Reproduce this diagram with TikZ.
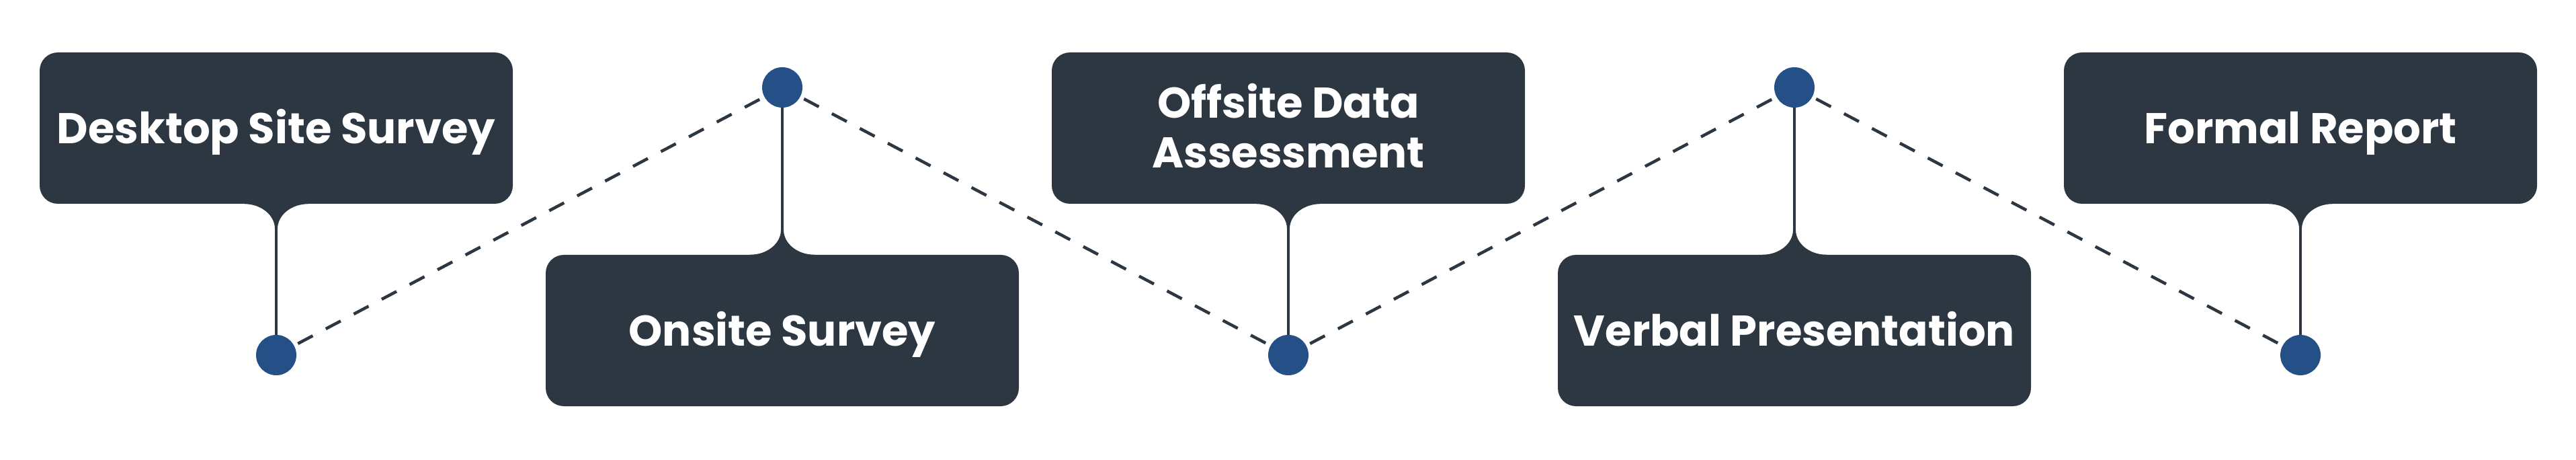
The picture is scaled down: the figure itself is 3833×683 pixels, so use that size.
\documentclass[tikz,border=0pt]{standalone}
\usepackage{fontspec}
\setmainfont{Poppins}
\definecolor{boxc}{HTML}{2C3742}
\definecolor{dotc}{HTML}{254F87}
\begin{document}
\begin{tikzpicture}[x=1pt,y=1pt,
  box/.style={fill=boxc, rounded corners=27pt, minimum width=704pt, minimum height=225pt, inner sep=0pt},
  lbl/.style={text=white, font=\fontsize{64}{74}\selectfont\bfseries, align=center, inner sep=0pt, anchor=base},
  dot/.style={circle, fill=dotc, minimum size=60pt, inner sep=0pt, outer sep=0pt},
  stem/.style={draw=boxc, line width=4pt},
  dashline/.style={draw=boxc, line width=4.5pt, dash pattern=on 25pt off 22pt, shorten <=6.5pt, shorten >=6.5pt},
  boxtab/.pic={\fill[boxc] (-48,2) -- (-48,0) .. controls (-22,0) and (-2,-17) .. (-2,-37) -- (2,-37) .. controls (2,-17) and (22,0) .. (48,0) -- (48,2) -- cycle;}
]
\useasboundingbox (0,0) rectangle (3833,683);
% boxes
\node[box] (b1) at (411,492.5) {};
\node[box] (b2) at (1164,191.5) {};
\node[box] (b3) at (1917,492.5) {};
\node[box] (b4) at (2670,191.5) {};
\node[box] (b5) at (3423,492.5) {};
% dots
\node[dot] (c1) at (411,155) {};
\node[dot] (c2) at (1164,553) {};
\node[dot] (c3) at (1917,155) {};
\node[dot] (c4) at (2670,553) {};
\node[dot] (c5) at (3423,155) {};
% stems
\draw[stem] (b1.south) -- (c1);
\draw[stem] (b2.north) -- (c2);
\draw[stem] (b3.south) -- (c3);
\draw[stem] (b4.north) -- (c4);
\draw[stem] (b5.south) -- (c5);
% tabs
\pic at (b1.south) {boxtab};
\pic[yscale=-1] at (b2.north) {boxtab};
\pic at (b3.south) {boxtab};
\pic[yscale=-1] at (b4.north) {boxtab};
\pic at (b5.south) {boxtab};
% dashed path
\draw[dashline] (c1) -- (c2);
\draw[dashline] (c2) -- (c3);
\draw[dashline] (c3) -- (c4);
\draw[dashline] (c4) -- (c5);
% labels
\node[lbl] (t1) at (411,469) {Desktop Site Survey};
\node[lbl] (t2) at (1164,168) {Onsite Survey};
\node[lbl] (t3) at (1917,433) {Offsite Data\\Assessment};
\node[lbl] (t4) at (2670,168) {Verbal Presentation};
\node[lbl] (t5) at (3423,469) {Formal Report};
\end{tikzpicture}
\end{document}
